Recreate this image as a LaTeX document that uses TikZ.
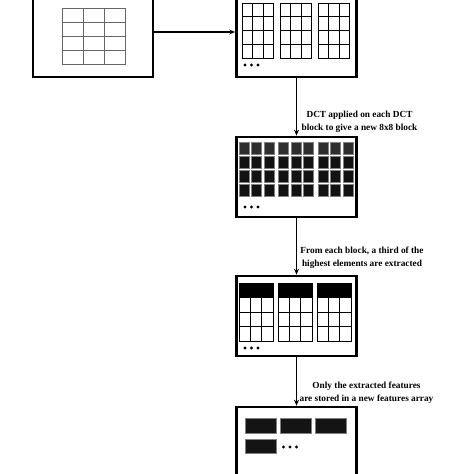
\documentclass[tikz,border=0pt]{standalone}
\usepackage{fontspec}
\setmainfont{Liberation Serif}
\usetikzlibrary{arrows.meta}

\begin{document}
\begin{tikzpicture}[x=1pt,y=-1pt,
	box/.style={draw,line width=2.7pt,inner sep=0pt,minimum width=120pt},
	flow/.style={-{Stealth[length=6pt,width=5pt]},line width=1.4pt},
	note/.style={font=\fontsize{9.3}{12.8}\selectfont\bfseries,align=center},
	gridline/.style={draw=gray!80!black,line width=0.8pt},
	cell/.style={draw=black,line width=0.8pt},
	coef/.style={draw=gray,line width=0.6pt,fill=black!93},
	feat/.style={draw=gray,line width=0.6pt,fill=black!92}]
	\useasboundingbox (0,0) rectangle (474,474);
	\clip (0,0) rectangle (474,474);
	% Boxes of the pipeline
	\node[box,minimum height=90pt] (image) at (93,32) {};
	\node[box,minimum height=90pt] (blocks) at (296.5,32) {};
	\node[box,minimum height=80pt] (dct) at (296.5,177) {};
	\node[box,minimum height=80pt] (select) at (296.5,316) {};
	\node[box,minimum height=86pt] (store) at (296.5,450) {};
	% Arrows between the boxes
	\draw[flow] (image) -- (blocks);
	\draw[flow] (blocks) -- (dct);
	\draw[flow] (dct) -- (select);
	\draw[flow] (select) -- (store);
	% Labels of the steps
	\node[note] (dctnote) at (359.5,121.5) {DCT applied on each DCT\\block to give a new 8x8 block};
	\node[note] (selnote) at (362,257.5) {From each block, a third of the\\highest elements are extracted};
	\node[note] (stonote) at (366.5,392.5) {Only the extracted features\\are stored in a new features array};
	% Input image grid
	\foreach \x in {0,1,2} \foreach \y in {0,1,2,3}
		\draw[gridline] (62+21*\x,8+14*\y) rectangle ++(21,14);
	% Split into blocks
	\foreach \g in {242,280,318} \foreach \x in {0,1,2} \foreach \y in {0,1,2,3}
		\draw[cell] (\g+10.5*\x,3+13.75*\y) rectangle ++(10.5,13.75);
	\foreach \x in {245,251.5,258} \fill (\x,65) circle (1.6);
	% DCT coefficients
	\foreach \g in {239,278.5,318} \foreach \x in {0,1,2}{
		\draw[coef,fill=black!82] (\g+12.5*\x,142) rectangle ++(10,12);
		\foreach \y in {1,2,3}
			\draw[coef] (\g+12.5*\x,142+14*\y) rectangle ++(10,12);}
	\foreach \x in {245,251.5,258} \fill (\x,207) circle (1.6);
	% Highest elements of each block
	\foreach \g in {239,278,317} \foreach \x in {0,1,2}{
		\draw[cell,fill=black] (\g+11.3*\x,283) rectangle ++(11.3,14.5);
		\foreach \y in {1,2,3}
			\draw[cell] (\g+11.3*\x,283+14.5*\y) rectangle ++(11.3,14.5);}
	\foreach \x in {245,251.5,258} \fill (\x,348) circle (1.6);
	% Features array
	\foreach \x in {245,280,315} \draw[feat] (\x,418) rectangle ++(31,15);
	\draw[feat] (245,439) rectangle ++(31,14);
	\foreach \x in {283.5,290,296.5} \fill (\x,447) circle (1.6);
\end{tikzpicture}
\end{document}
